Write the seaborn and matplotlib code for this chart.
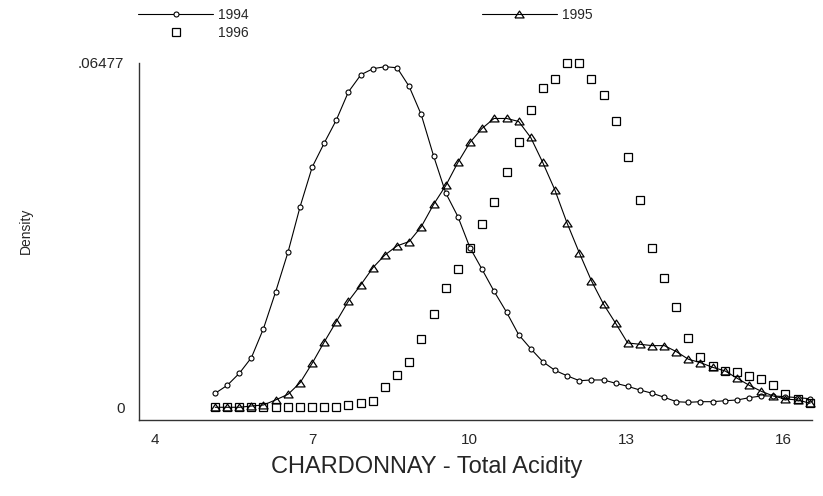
import matplotlib
matplotlib.use("Agg")
import matplotlib.pyplot as plt
from matplotlib import font_manager
from matplotlib.lines import Line2D
import numpy as np
import pandas as pd
import seaborn as sns

# Evaluation grid of the kernel density estimates (total acidity)
acidity = [5.15, 5.38, 5.61, 5.84, 6.07, 6.30, 6.54, 6.77, 7.00, 7.23,
           7.46, 7.69, 7.93, 8.16, 8.39, 8.62, 8.85, 9.08, 9.32, 9.55,
           9.78, 10.01, 10.24, 10.47, 10.71, 10.94, 11.17, 11.40, 11.63, 11.86,
           12.10, 12.33, 12.56, 12.79, 13.02, 13.25, 13.49, 13.72, 13.95, 14.18,
           14.41, 14.64, 14.88, 15.11, 15.34, 15.57, 15.80, 16.03, 16.27, 16.50]

density_1994 = [0.00273, 0.00423, 0.00649, 0.00942, 0.01487, 0.02171, 0.02929, 0.03781, 0.04521, 0.04973,
                0.05405, 0.05932, 0.06257, 0.06370, 0.06407, 0.06388, 0.06037, 0.05510, 0.04721, 0.04033,
                0.03593, 0.03010, 0.02604, 0.02190, 0.01795, 0.01374, 0.01111, 0.00867, 0.00705, 0.00603,
                0.00509, 0.00523, 0.00523, 0.00461, 0.00404, 0.00335, 0.00273, 0.00197, 0.00115, 0.00103,
                0.00115, 0.00115, 0.00133, 0.00147, 0.00190, 0.00222, 0.00222, 0.00209, 0.00190, 0.00171]

density_1995 = [0.00010, 0.00010, 0.00010, 0.00034, 0.00053, 0.00147, 0.00254, 0.00472, 0.00837, 0.01237,
                0.01619, 0.02002, 0.02314, 0.02634, 0.02873, 0.03042, 0.03123, 0.03399, 0.03826, 0.04176,
                0.04608, 0.04984, 0.05247, 0.05435, 0.05435, 0.05379, 0.05078, 0.04608, 0.04095, 0.03480,
                0.02905, 0.02384, 0.01946, 0.01589, 0.01218, 0.01194, 0.01168, 0.01168, 0.01055, 0.00912,
                0.00848, 0.00761, 0.00692, 0.00555, 0.00423, 0.00310, 0.00222, 0.00165, 0.00147, 0.00085]

density_1996 = [0.00010, 0.00010, 0.00010, 0.00010, 0.00010, 0.00010, 0.00010, 0.00010, 0.00010, 0.00010,
                0.00010, 0.00053, 0.00096, 0.00133, 0.00397, 0.00617, 0.00867, 0.01288, 0.01758, 0.02247,
                0.02604, 0.03010, 0.03450, 0.03869, 0.04424, 0.04993, 0.05586, 0.06007, 0.06182, 0.06477,
                0.06477, 0.06182, 0.05881, 0.05392, 0.04706, 0.03907, 0.03004, 0.02440, 0.01889, 0.01307,
                0.00949, 0.00786, 0.00692, 0.00679, 0.00598, 0.00541, 0.00423, 0.00254, 0.00165, 0.00085]

years = ["1994", "1995", "1996"]
x_ticks = [4, 7, 10, 13, 16]
y_max = 0.06477
y_ticks = [0, y_max / 4, y_max / 2, 3 * y_max / 4, y_max]
y_tick_labels = ["0", "", "", "", ".06477"]

sns.set_style("white")
installed = {f.name for f in font_manager.fontManager.ttflist}
family = ["Liberation Sans Narrow"] if "Liberation Sans Narrow" in installed else []
family += ["Liberation Sans", "DejaVu Sans"]
plt.rcParams["font.family"] = family

W, H = 823, 496
fig = plt.figure(figsize=(W / 100, H / 100), dpi=100)
ax = fig.add_axes([139 / W, 1 - 420 / H, (812 - 139) / W, (420 - 63) / H])

df = pd.DataFrame({"acidity": acidity, "d94": density_1994,
                   "d95": density_1995, "d96": density_1996})

# flattened open triangle, like the classic graph symbol
tri = [(-1.0, -0.75), (1.0, -0.75), (0.0, 0.75), (-1.0, -0.75)]

circle_kw = dict(marker="o", markersize=3.6, markerfacecolor="white",
                 markeredgecolor="black", markeredgewidth=0.8)
tri_kw = dict(marker=tri, markersize=6.6, markerfacecolor="none",
              markeredgecolor="black", markeredgewidth=0.9)
square_kw = dict(marker="s", markersize=6.2, markerfacecolor="none",
                 markeredgecolor="black", markeredgewidth=0.9)

sns.lineplot(data=df, x="acidity", y="d94", ax=ax, color="black", lw=0.8,
             clip_on=False, **circle_kw)
sns.lineplot(data=df, x="acidity", y="d95", ax=ax, color="black", lw=0.8,
             clip_on=False, **tri_kw)
ax.plot(df["acidity"], df["d96"], linestyle="none", clip_on=False, **square_kw)

ax.set_xlim(3.695, 16.538)
ax.set_ylim(-0.00229, y_max)
ax.set_xticks(x_ticks)
ax.set_xticklabels([str(t) for t in x_ticks], fontsize=11)
ax.set_yticks(y_ticks)
ax.set_yticklabels(y_tick_labels, fontsize=11)

for side in ("top", "right"):
    ax.spines[side].set_visible(False)
for side in ("left", "bottom"):
    ax.spines[side].set_color("#333333")
    ax.spines[side].set_linewidth(1.0)
ax.tick_params(axis="y", direction="out", length=7.5, width=0.9, color="#333333", pad=3)
ax.tick_params(axis="x", direction="out", length=6, width=0.9, color="#333333", pad=3)

ax.set_xlabel("CHARDONNAY - Total Acidity", fontsize=17)
ax.xaxis.set_label_coords(0.428, -0.1)
ax.set_ylabel("Density", fontsize=10)
ax.yaxis.set_label_coords(-0.158, 0.53)

handles = [
    Line2D([], [], color="black", lw=0.8, **circle_kw),
    Line2D([], [], linestyle="none", **square_kw),
    Line2D([], [], color="black", lw=0.8, **tri_kw),
]
fig.legend(handles, [years[0], years[2], years[1]], ncol=2, frameon=False,
           loc="upper left", bbox_to_anchor=(138 / W, 1 - 8 / H),
           fontsize=10, handlelength=5.4, handletextpad=0.36,
           columnspacing=16.8, labelspacing=0.3, borderpad=0,
           borderaxespad=0, numpoints=1)

fig.savefig("out.png", dpi=100)
